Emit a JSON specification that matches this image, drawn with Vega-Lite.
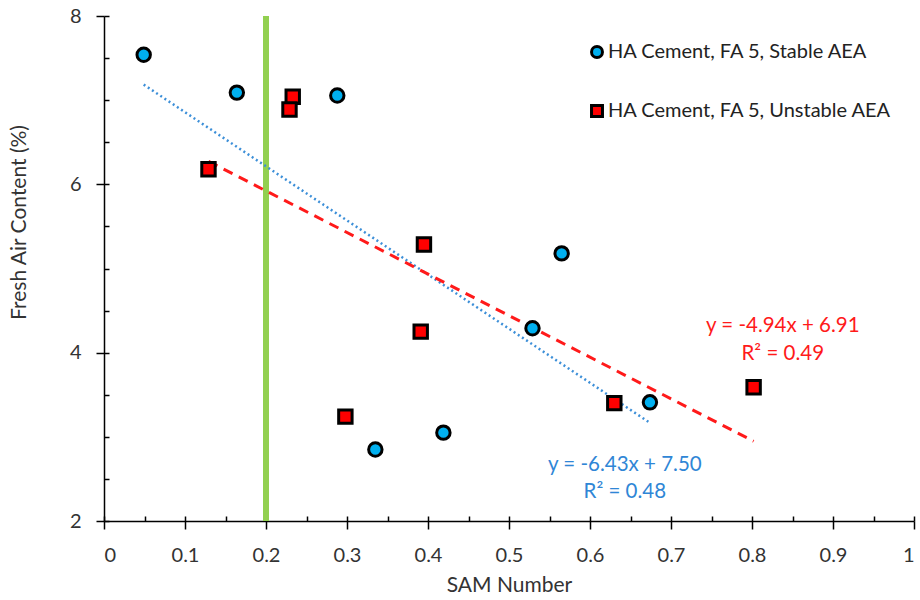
{
  "$schema": "https://vega.github.io/schema/vega-lite/v6.json",
  "width": 810,
  "height": 505,
  "autosize": {"type": "none"},
  "padding": {"left": 104, "top": 16, "right": 6, "bottom": 79},
  "background": "white",
  "config": {
    "font": "Lato",
    "view": {"stroke": null},
    "axis": {"grid": false, "domainColor": "black", "tickColor": "black", "domainWidth": 1.5, "tickWidth": 1.5, "labelColor": "#333333", "titleColor": "#333333", "labelFontSize": 20, "titleFontSize": 21, "titleFontWeight": "normal"}
  },
  "datasets": {
    "points": [
      {"series": "HA Cement, FA 5, Stable AEA", "sam": 0.049, "air": 7.54},
      {"series": "HA Cement, FA 5, Stable AEA", "sam": 0.164, "air": 7.09},
      {"series": "HA Cement, FA 5, Stable AEA", "sam": 0.288, "air": 7.055},
      {"series": "HA Cement, FA 5, Stable AEA", "sam": 0.335, "air": 2.85},
      {"series": "HA Cement, FA 5, Stable AEA", "sam": 0.419, "air": 3.05},
      {"series": "HA Cement, FA 5, Stable AEA", "sam": 0.529, "air": 4.29},
      {"series": "HA Cement, FA 5, Stable AEA", "sam": 0.565, "air": 5.18},
      {"series": "HA Cement, FA 5, Stable AEA", "sam": 0.674, "air": 3.41},
      {"series": "HA Cement, FA 5, Unstable AEA", "sam": 0.129, "air": 6.18},
      {"series": "HA Cement, FA 5, Unstable AEA", "sam": 0.233, "air": 7.04},
      {"series": "HA Cement, FA 5, Unstable AEA", "sam": 0.229, "air": 6.89},
      {"series": "HA Cement, FA 5, Unstable AEA", "sam": 0.395, "air": 5.285},
      {"series": "HA Cement, FA 5, Unstable AEA", "sam": 0.391, "air": 4.25},
      {"series": "HA Cement, FA 5, Unstable AEA", "sam": 0.298, "air": 3.24},
      {"series": "HA Cement, FA 5, Unstable AEA", "sam": 0.630, "air": 3.40},
      {"series": "HA Cement, FA 5, Unstable AEA", "sam": 0.802, "air": 3.59}
    ],
    "trendStable": [
      {"sam": 0.049, "air": 7.185},
      {"sam": 0.674, "air": 3.166}
    ],
    "trendUnstable": [
      {"sam": 0.129, "air": 6.273},
      {"sam": 0.802, "air": 2.948}
    ],
    "limit": [{"sam": 0.2}],
    "labelsStable": [
      {"text": "y = -6.43x + 7.50", "sam": 0.643, "air": 2.67},
      {"text": "R² = 0.48", "sam": 0.643, "air": 2.34}
    ],
    "labelsUnstable": [
      {"text": "y = -4.94x + 6.91", "sam": 0.838, "air": 4.32},
      {"text": "R² = 0.49", "sam": 0.838, "air": 3.98}
    ]
  },
  "resolve": {"axis": {"x": "independent", "y": "independent"}},
  "layer": [
    {
      "data": {"name": "limit"},
      "mark": {"type": "rule", "color": "#92D050", "strokeWidth": 6},
      "encoding": {
        "x": {"field": "sam", "type": "quantitative", "scale": {"domain": [0, 1], "nice": false, "zero": false},
          "axis": {"orient": "bottom", "values": [0, 0.05, 0.1, 0.15, 0.2, 0.25, 0.3, 0.35, 0.4, 0.45, 0.5, 0.55, 0.6, 0.65, 0.7, 0.75, 0.8, 0.85, 0.9, 0.95, 1], "tickSize": -5, "labels": false, "domain": false, "title": null}}
      }
    },
    {
      "data": {"name": "trendStable"},
      "mark": {"type": "line", "color": "#3C8FD8", "strokeWidth": 2.5, "strokeDash": [2, 3]},
      "encoding": {
        "x": {"field": "sam", "type": "quantitative", "axis": null},
        "y": {"field": "air", "type": "quantitative", "scale": {"domain": [2, 8], "nice": false, "zero": false},
          "axis": {"orient": "left", "values": [2, 2.5, 3, 3.5, 4, 4.5, 5, 5.5, 6, 6.5, 7, 7.5, 8], "tickSize": -5, "labels": false, "domain": false, "title": null}}
      }
    },
    {
      "data": {"name": "trendUnstable"},
      "mark": {"type": "line", "color": "#FF1A1A", "strokeWidth": 3, "strokeDash": [10, 7]},
      "encoding": {
        "x": {"field": "sam", "type": "quantitative", "axis": null},
        "y": {"field": "air", "type": "quantitative", "axis": null}
      }
    },
    {
      "data": {"name": "points"},
      "mark": {"type": "point", "filled": true, "stroke": "black", "strokeWidth": 3, "size": 180, "opacity": 1},
      "encoding": {
        "x": {"field": "sam", "type": "quantitative",
          "axis": {"orient": "bottom", "title": "SAM Number", "values": [0, 0.1, 0.2, 0.3, 0.4, 0.5, 0.6, 0.7, 0.8, 0.9, 1], "format": "~g", "tickSize": 8, "labelPadding": 16, "titleY": 64, "titleBaseline": "middle"}},
        "y": {"field": "air", "type": "quantitative",
          "axis": {"orient": "left", "title": "Fresh Air Content (%)", "values": [2, 4, 6, 8], "tickSize": 8, "labelPadding": 15, "titleX": -85, "titleY": 206, "titleBaseline": "middle", "titleAlign": "center", "titleAngle": 270}},
        "fill": {"field": "series", "type": "nominal",
          "scale": {"domain": ["HA Cement, FA 5, Stable AEA", "HA Cement, FA 5, Unstable AEA"], "range": ["#00B0F0", "#FF0000"]},
          "legend": {"orient": "none", "legendX": 483, "legendY": 26, "title": null, "labelFontSize": 20, "labelColor": "#222222", "labelLimit": 400, "labelOffset": 1, "rowPadding": 35, "symbolSize": 120, "symbolStrokeColor": "black", "symbolStrokeWidth": 3}},
        "shape": {"field": "series", "type": "nominal",
          "scale": {"domain": ["HA Cement, FA 5, Stable AEA", "HA Cement, FA 5, Unstable AEA"], "range": ["circle", "square"]}}
      }
    },
    {
      "data": {"name": "labelsStable"},
      "mark": {"type": "text", "color": "#2F86D6", "fontSize": 20.5, "align": "center", "baseline": "middle"},
      "encoding": {
        "x": {"field": "sam", "type": "quantitative", "axis": null},
        "y": {"field": "air", "type": "quantitative", "axis": null},
        "text": {"field": "text"}
      }
    },
    {
      "data": {"name": "labelsUnstable"},
      "mark": {"type": "text", "color": "#FF1A1A", "fontSize": 20.5, "align": "center", "baseline": "middle"},
      "encoding": {
        "x": {"field": "sam", "type": "quantitative", "axis": null},
        "y": {"field": "air", "type": "quantitative", "axis": null},
        "text": {"field": "text"}
      }
    }
  ]
}
